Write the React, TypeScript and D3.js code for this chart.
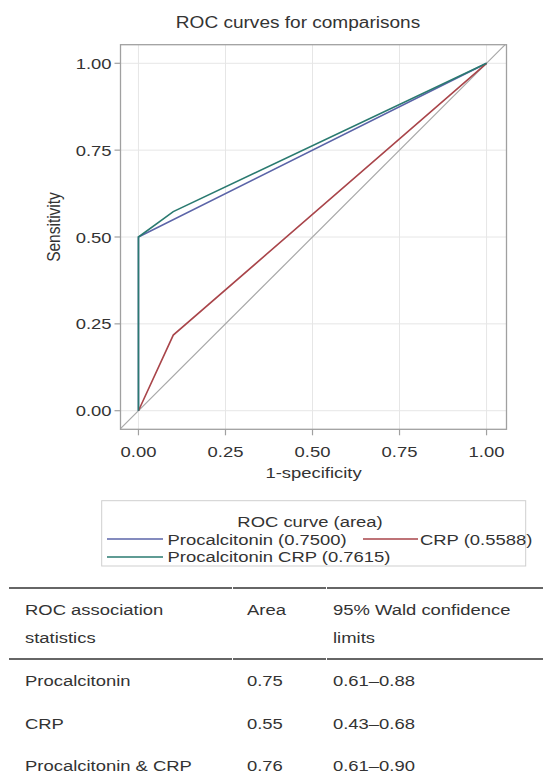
import React from "react";
import * as d3 from "d3";

const W = 543;
const H = 779;
const SX = 1.19;

const title = "ROC curves for comparisons";
const xLabel = "1-specificity";
const yLabel = "Sensitivity";
const tickValues = [0, 0.25, 0.5, 0.75, 1];

const seriesNames = ["Procalcitonin (0.7500)", "CRP (0.5588)", "Procalcitonin CRP (0.7615)"];
const seriesColors = ["#5b64a8", "#a9454a", "#2a7a70"];
const fprProcalcitonin = [0, 0, 1];
const sensProcalcitonin = [0, 0.5, 1];
const fprCRP = [0, 0.1, 1];
const sensCRP = [0, 0.2176, 1];
const fprCombined = [0, 0, 0.1, 1];
const sensCombined = [0, 0.5, 0.573, 1];

const tableHeader1 = ["ROC association", "Area", "95% Wald confidence"];
const tableHeader2 = ["statistics", "", "limits"];
const tableNames = ["Procalcitonin", "CRP", "Procalcitonin & CRP"];
const tableAreas = ["0.75", "0.55", "0.76"];
const tableCI = ["0.61\u20130.88", "0.43\u20130.68", "0.61\u20130.90"];

const FONT = "'Liberation Sans', Arial, Helvetica, sans-serif";

function T({ x, y, size, anchor = "start", fill = "#333", children, rotate = 0 }: any) {
  const tr = rotate
    ? `translate(${x},${y}) rotate(${rotate}) scale(1,${SX})`
    : `translate(${x},${y}) scale(${SX},1)`;
  return (
    <text transform={tr} fontSize={size} fontFamily={FONT} textAnchor={anchor} fill={fill}>
      {children}
    </text>
  );
}

export default function App() {
  const left = 120.5, right = 506.5, top = 44.7, bottom = 429.3;
  const x = d3.scaleLinear().domain([-0.0516, 1.0573]).range([left, right]);
  const y = d3.scaleLinear().domain([-0.0535, 1.0535]).range([bottom, top]);
  const line = d3.line<[number, number]>().x((d) => x(d[0])).y((d) => y(d[1]));
  const mk = (a: number[], b: number[]) => a.map((v, i) => [v, b[i]] as [number, number]);
  const series = [
    mk(fprProcalcitonin, sensProcalcitonin),
    mk(fprCRP, sensCRP),
    mk(fprCombined, sensCombined),
  ];
  const lo = Math.max(x.domain()[0], y.domain()[0]);
  const hi = Math.min(x.domain()[1], y.domain()[1]);
  const fs = 15.5;

  const colX = [25, 247, 333];
  const rowY = [686, 729, 771];

  return (
    <svg width={W} height={H} style={{ position: "absolute", left: 0, top: 0, background: "#fff" }}>
      <rect width={W} height={H} fill="#fff" />
      <T x={298} y={28} size={16} anchor="middle">{title}</T>
      {/* grid */}
      {tickValues.map((t) => (
        <g key={"g" + t}>
          <line x1={x(t)} x2={x(t)} y1={top} y2={bottom} stroke="#e6e6e6" strokeWidth={1} />
          <line x1={left} x2={right} y1={y(t)} y2={y(t)} stroke="#e6e6e6" strokeWidth={1} />
        </g>
      ))}
      {/* diagonal */}
      <line x1={x(lo)} y1={y(lo)} x2={x(hi)} y2={y(hi)} stroke="#a8a8a8" strokeWidth={1.2} />
      {series.map((s, i) => (
        <path key={i} d={line(s) || ""} fill="none" stroke={seriesColors[i]} strokeWidth={1.6} />
      ))}
      <rect x={left} y={top} width={right - left} height={bottom - top} fill="none" stroke="#a0a0a0" strokeWidth={1.3} />
      {/* ticks */}
      {tickValues.map((t) => (
        <g key={"t" + t}>
          <line x1={left - 6} x2={left} y1={y(t)} y2={y(t)} stroke="#a0a0a0" strokeWidth={1.2} />
          <T x={left - 9} y={y(t) + 5.5} size={fs} anchor="end">{t.toFixed(2)}</T>
          <line x1={x(t)} x2={x(t)} y1={bottom} y2={bottom + 6} stroke="#a0a0a0" strokeWidth={1.2} />
          <T x={x(t)} y={457} size={fs} anchor="middle">{t.toFixed(2)}</T>
        </g>
      ))}
      <T x={(left + right) / 2} y={478} size={fs} anchor="middle">{xLabel}</T>
      <T x={60} y={(top + bottom) / 2 - 10} size={fs} anchor="middle" rotate={-90}>{yLabel}</T>
      {/* legend */}
      <rect x={101.7} y={500.7} width={424} height={65.3} fill="none" stroke="#cfcfcf" strokeWidth={1} />
      <T x={310} y={526.5} size={fs} anchor="middle">ROC curve (area)</T>
      <line x1={107} x2={163} y1={539} y2={539} stroke={seriesColors[0]} strokeWidth={1.6} />
      <T x={167.5} y={545} size={fs}>{seriesNames[0]}</T>
      <line x1={363} x2={418} y1={539} y2={539} stroke={seriesColors[1]} strokeWidth={1.6} />
      <T x={420} y={545} size={fs}>{seriesNames[1]}</T>
      <line x1={107} x2={163} y1={557} y2={557} stroke={seriesColors[2]} strokeWidth={1.6} />
      <T x={167.5} y={562} size={fs}>{seriesNames[2]}</T>
      {/* table */}
      <line x1={9} x2={232} y1={588} y2={588} stroke="#666" strokeWidth={1.8} />
      <line x1={233} x2={326} y1={588} y2={588} stroke="#666" strokeWidth={1.8} />
      <line x1={327} x2={543} y1={588} y2={588} stroke="#666" strokeWidth={1.8} />
      <line x1={9} x2={232} y1={659} y2={659} stroke="#666" strokeWidth={1.8} />
      <line x1={233} x2={326} y1={659} y2={659} stroke="#666" strokeWidth={1.8} />
      <line x1={327} x2={543} y1={659} y2={659} stroke="#666" strokeWidth={1.8} />
      {tableHeader1.map((h, i) => (
        <T key={"h1" + i} x={colX[i]} y={615} size={fs}>{h}</T>
      ))}
      {tableHeader2.map((h, i) => (
        <T key={"h2" + i} x={colX[i]} y={643} size={fs}>{h}</T>
      ))}
      {tableNames.map((n, i) => (
        <g key={"r" + i}>
          <T x={colX[0]} y={rowY[i]} size={fs}>{n}</T>
          <T x={colX[1]} y={rowY[i]} size={fs}>{tableAreas[i]}</T>
          <T x={colX[2]} y={rowY[i]} size={fs}>{tableCI[i]}</T>
        </g>
      ))}
    </svg>
  );
}
